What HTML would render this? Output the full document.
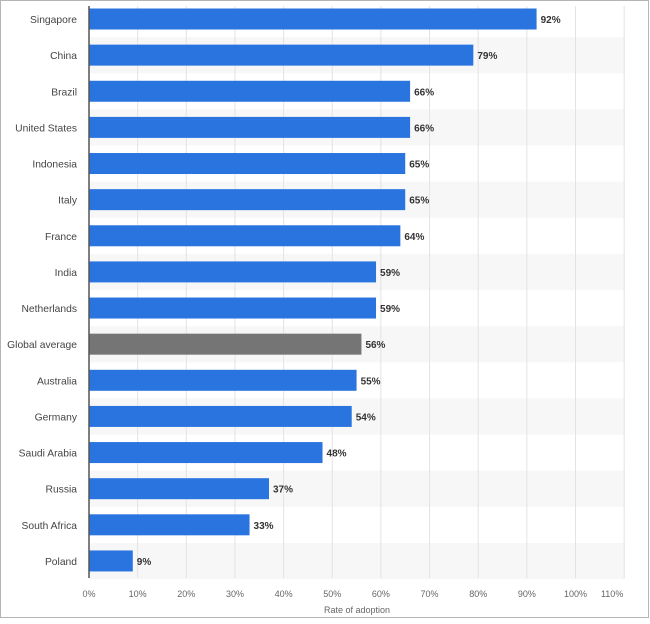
<!DOCTYPE html>
<html><head><style>
body{margin:0;background:#fff;}
svg text{font-family:"Liberation Sans",sans-serif;}
</style></head><body>
<svg width="650" height="619" xmlns="http://www.w3.org/2000/svg">
<rect x="0.5" y="0.5" width="648" height="617" fill="#fff" stroke="#b5b5b5"/>
<g id="bands"></g>
<g id="grid"></g>
<g id="bars"></g>
<line x1="89" y1="6" x2="89" y2="578" stroke="#555" stroke-width="1.5"/>
<text x="357" y="613" font-size="9" fill="#666" text-anchor="middle">Rate of adoption</text>
</svg>
<script>
const d=[["Singapore",92],["China",79],["Brazil",66],["United States",66],["Indonesia",65],["Italy",65],["France",64],["India",59],["Netherlands",59],["Global average",56],["Australia",55],["Germany",54],["Saudi Arabia",48],["Russia",37],["South Africa",33],["Poland",9]];
const ns="http://www.w3.org/2000/svg",s=document.querySelector('svg');
function el(t,a,p,txt){const e=document.createElementNS(ns,t);for(const k in a)e.setAttribute(k,a[k]);if(txt!=null)e.textContent=txt;(p||s).appendChild(e);return e;}
const B=document.getElementById('bands'),G=document.getElementById('grid'),R=document.getElementById('bars');
const x0=89,sc=4.865,p=36.13;
d.forEach((r,i)=>{const c=19+i*p;
 if(i%2==1)el('rect',{x:89,y:c-18,width:536,height:p,fill:'#f7f7f7'},B);
 el('rect',{x:x0,y:c-10.5,width:r[1]*sc,height:21,fill:r[0]=="Global average"?'#757575':'#2a74e0'},R);
 el('text',{x:77,y:c+4,'font-size':10.3,fill:'#444','text-anchor':'end'},R,r[0]);
 el('text',{x:x0+r[1]*sc+4,y:c+4,'font-size':10,fill:'#333','font-weight':'bold'},R,r[1]+'%');
});
for(let k=0;k<=11;k++){const x=x0+k*10*sc;
 if(k>0)el('line',{x1:x,y1:6,x2:x,y2:578,stroke:'#e3e3e3'},G);
 el('text',{x:k==11?x-12:x,y:597,'font-size':9,fill:'#666','text-anchor':'middle'},G,(k*10)+'%');}
</script>
</body></html>
